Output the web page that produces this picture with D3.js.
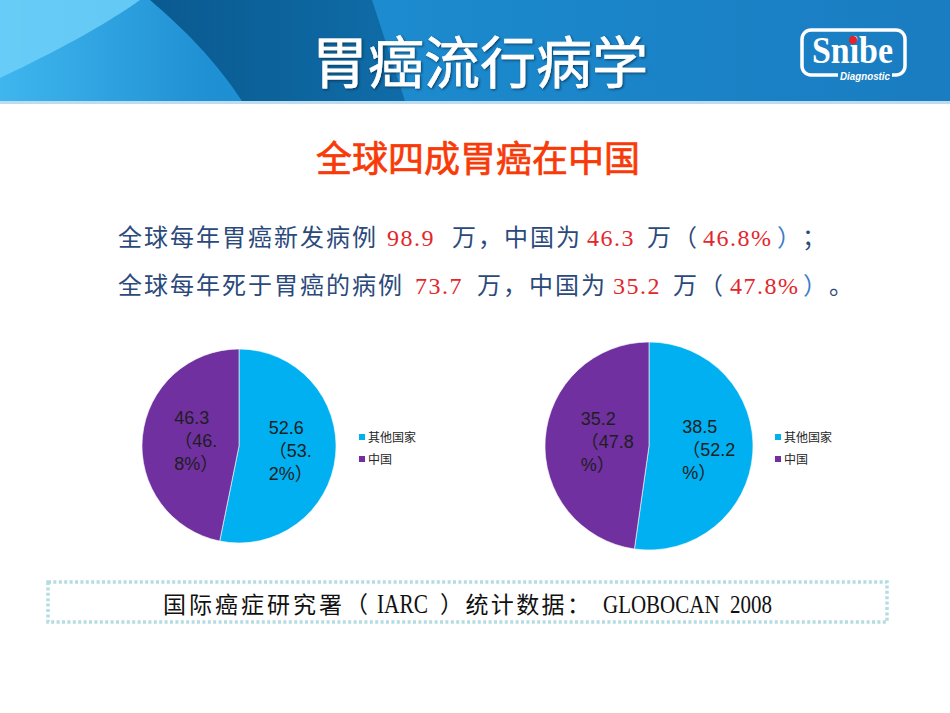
<!DOCTYPE html>
<html lang="zh-CN">
<head>
<meta charset="UTF-8">
<title>胃癌流行病学</title>
<style>
  html, body { margin: 0; padding: 0; background: #fff; }
  svg { display: block; }
</style>
</head>
<body>
<div id="slide"></div>

<script src="https://d3js.org/d3.v7.min.js"></script>
<script>

// ---- data ----
const categories = ['其他国家', '中国'];
const newCases = [52.6, 46.3];          // 万
const deaths = [38.5, 35.2];            // 万
const newCaseLabels = [['52.6', '（53.', '2%）'], ['46.3', '（46.', '8%）']];
const deathLabels = [['38.5', '（52.2', '%）'], ['35.2', '（47.8', '%）']];
const worldTotals = [98.9, 73.7];
const chinaTotals = [46.3, 35.2];
const chinaShares = ['46.8%', '47.8%'];
const sliceColors = ['#00B0F0', '#7030A0'];

const width = 950, height = 713;

const svg = d3.select('#slide')
  .append('svg')
  .attr('width', width)
  .attr('height', height)
  .attr('viewBox', `0 0 ${width} ${height}`);

const defs = svg.append('defs');

let hdr = defs.append('linearGradient').attr('id', 'hdr').attr('x1', 0).attr('x2', 1);
hdr.append('stop').attr('offset', 0).attr('stop-color', '#3FB6EE');
hdr.append('stop').attr('offset', 0.22).attr('stop-color', '#1F90D3');
hdr.append('stop').attr('offset', 0.55).attr('stop-color', '#1B87CB');
hdr.append('stop').attr('offset', 1).attr('stop-color', '#1A7CC1');

let band = defs.append('linearGradient').attr('id', 'band').attr('x1', 0).attr('x2', 1);
band.append('stop').attr('offset', 0).attr('stop-color', '#0A5A90');
band.append('stop').attr('offset', 1).attr('stop-color', '#0F6CA8');

let shadow = defs.append('filter').attr('id', 'shadow');
shadow.append('feDropShadow')
  .attr('dx', 1.2).attr('dy', 1.2).attr('stdDeviation', 0.8)
  .attr('flood-color', '#002040').attr('flood-opacity', 0.7);

// ---- header banner ----
svg.append('rect').attr('width', width).attr('height', 101).attr('fill', 'url(#hdr)');
svg.append('path')
  .attr('d', 'M0,0 H140 C105,25 55,52 0,78 Z')
  .attr('fill', '#6FD0F8').attr('opacity', 0.85);
svg.append('path')
  .attr('d', 'M150,0 H372 L405,101 H242 C215,60 185,30 150,0 Z')
  .attr('fill', 'url(#band)');
svg.append('rect').attr('y', 101).attr('width', width).attr('height', 3).attr('fill', '#BCDDF0');

svg.append('text')
  .attr('x', 480).attr('y', 83)
  .attr('text-anchor', 'middle')
  .attr('font-family', '"Noto Sans CJK SC"')
  .attr('font-size', 56)
  .attr('fill', '#fff')
  .attr('stroke', '#fff')
  .attr('stroke-width', 0.6)
  .attr('filter', 'url(#shadow)')
  .text('胃癌流行病学');

// logo
let logo = svg.append('g');
logo.append('rect')
  .attr('x', 802).attr('y', 30).attr('width', 103).attr('height', 45).attr('rx', 9)
  .attr('fill', 'none').attr('stroke', '#fff').attr('stroke-width', 3.5);
logo.append('text')
  .attr('x', 812).attr('y', 63)
  .attr('font-family', '"Liberation Serif"').attr('font-weight', 'bold')
  .attr('font-size', 37).attr('fill', '#fff')
  .attr('textLength', 81).attr('lengthAdjust', 'spacingAndGlyphs')
  .text('Snibe');
logo.append('circle').attr('cx', 853).attr('cy', 40).attr('r', 4).attr('fill', '#E3232B');
logo.append('rect').attr('x', 838).attr('y', 71).attr('width', 54).attr('height', 9).attr('fill', '#1A7DC2');
logo.append('text')
  .attr('x', 840).attr('y', 79.5)
  .attr('font-family', '"Liberation Sans"').attr('font-weight', 'bold').attr('font-style', 'italic')
  .attr('font-size', 10).attr('fill', '#fff')
  .attr('textLength', 50).attr('lengthAdjust', 'spacingAndGlyphs')
  .text('Diagnostic');

// ---- subtitle ----
svg.append('text')
  .attr('x', 478).attr('y', 172)
  .attr('text-anchor', 'middle')
  .attr('font-family', '"Noto Sans CJK SC"')
  .attr('font-size', 36)
  .attr('fill', '#F83A08')
  .attr('stroke', '#F83A08')
  .attr('stroke-width', 0.7)
  .text('全球四成胃癌在中国');

// ---- summary lines ----
const dark = '#2B4A7B', red = '#E3262B', paren = '#3A7DC9';
const summaryLines = [
  [
    { t: '全球每年胃癌新发病例', c: dark },
    { t: String(worldTotals[0]), c: red },
    { t: '万，中国为', c: dark },
    { t: String(chinaTotals[0]), c: red },
    { t: '万（', c: dark },
    { t: chinaShares[0], c: red },
    { t: '）', c: paren },
    { t: '；', c: dark }
  ],
  [
    { t: '全球每年死于胃癌的病例', c: dark },
    { t: String(worldTotals[1]), c: red },
    { t: '万，中国为', c: dark },
    { t: String(chinaTotals[1]), c: red },
    { t: '万（', c: dark },
    { t: chinaShares[1], c: red },
    { t: '）', c: paren },
    { t: '。', c: dark }
  ]
];
const segX = [
  [118, 387, 452, 587, 647, 703, 777, 802],
  [118, 415, 477, 613, 673, 730, 803, 829]
];
const lineY = [246, 294];

summaryLines.forEach(function(line, li) {
  svg.append('g').selectAll('text')
    .data(line)
    .enter()
    .append('text')
    .attr('x', function(d, i) { return segX[li][i]; })
    .attr('y', lineY[li])
    .attr('font-family', '"Liberation Serif", "Noto Sans CJK SC"')
    .attr('font-size', 24)
    .attr('letter-spacing', function(d) { return /[0-9]/.test(d.t) ? 1.5 : 2; })
    .attr('fill', function(d) { return d.c; })
    .text(function(d) { return d.t; });
});

// ---- pies ----
const charts = [
  { values: newCases, labels: newCaseLabels, cx: 239, cy: 446, r: 97, legendX: 359 },
  { values: deaths, labels: deathLabels, cx: 649, cy: 446, r: 104, legendX: 775 }
];

const color = d3.scaleOrdinal().domain(categories).range(sliceColors);
const pie = d3.pie().sort(null).value(function(d) { return d.v; });

charts.forEach(function(ch) {
  let g = svg.append('g').attr('transform', `translate(${ch.cx}, ${ch.cy})`);
  let rows = categories.map(function(c, i) { return { cat: c, v: ch.values[i], lines: ch.labels[i] }; });
  let arcs = pie(rows);

  let arc = d3.arc().innerRadius(0).outerRadius(ch.r);
  let labelArc = d3.arc().innerRadius(ch.r * 0.49).outerRadius(ch.r * 0.49);

  g.selectAll('path')
    .data(arcs)
    .enter()
    .append('path')
    .attr('d', arc)
    .attr('fill', function(d) { return color(d.data.cat); })
    .attr('stroke', '#fff')
    .attr('stroke-width', 0.6);

  arcs.forEach(function(a) {
    let c = labelArc.centroid(a);
    let t = g.append('g')
      .attr('font-family', '"Liberation Sans", "Noto Sans CJK SC"')
      .attr('font-size', 18)
      .attr('fill', '#1E1E1E');
    let texts = t.selectAll('text')
      .data(a.data.lines)
      .enter()
      .append('text')
      .attr('y', function(d, i) { return c[1] + (i - 1) * 23 + 6; })
      .text(function(d) { return d; });
    let w = texts.nodes()[0].getComputedTextLength();
    texts.attr('x', c[0] - w / 2);
  });

  // legend
  let lg = svg.append('g').attr('transform', `translate(${ch.legendX}, 434)`);
  let item = lg.selectAll('g')
    .data(categories)
    .enter()
    .append('g')
    .attr('transform', function(d, i) { return `translate(0, ${i * 22})`; });
  item.append('rect')
    .attr('width', 6).attr('height', 6)
    .attr('fill', function(d) { return color(d); });
  item.append('text')
    .attr('x', 9).attr('y', 8)
    .attr('font-family', '"Noto Sans CJK SC"')
    .attr('font-size', 12)
    .attr('fill', '#262626')
    .text(function(d) { return d; });
});

// ---- source box ----
svg.append('rect')
  .attr('x', 48).attr('y', 582).attr('width', 839).attr('height', 40)
  .attr('fill', 'none')
  .attr('stroke', '#B5DCE2')
  .attr('stroke-width', 3.5)
  .attr('stroke-dasharray', '3,2.4');

const sourceParts = [
  { t: '国际癌症研究署（', x: 163, w: 205, size: 23, adj: 'spacing' },
  { t: 'IARC', x: 377, w: 51, size: 27, adj: 'spacingAndGlyphs' },
  { t: '）统计数据：', x: 440, w: 150, size: 23, adj: 'spacing' },
  { t: 'GLOBOCAN\u00a0\u00a02008', x: 603, w: 169, size: 26, adj: 'spacingAndGlyphs' }
];

svg.append('g').selectAll('text')
  .data(sourceParts)
  .enter()
  .append('text')
  .attr('x', function(d) { return d.x; })
  .attr('y', 613)
  .attr('font-family', '"Liberation Serif", "Noto Sans CJK SC"')
  .attr('font-size', function(d) { return d.size; })
  .attr('fill', '#111')
  .attr('textLength', function(d) { return d.w; })
  .attr('lengthAdjust', function(d) { return d.adj; })
  .text(function(d) { return d.t; });

</script>
</body>
</html>
